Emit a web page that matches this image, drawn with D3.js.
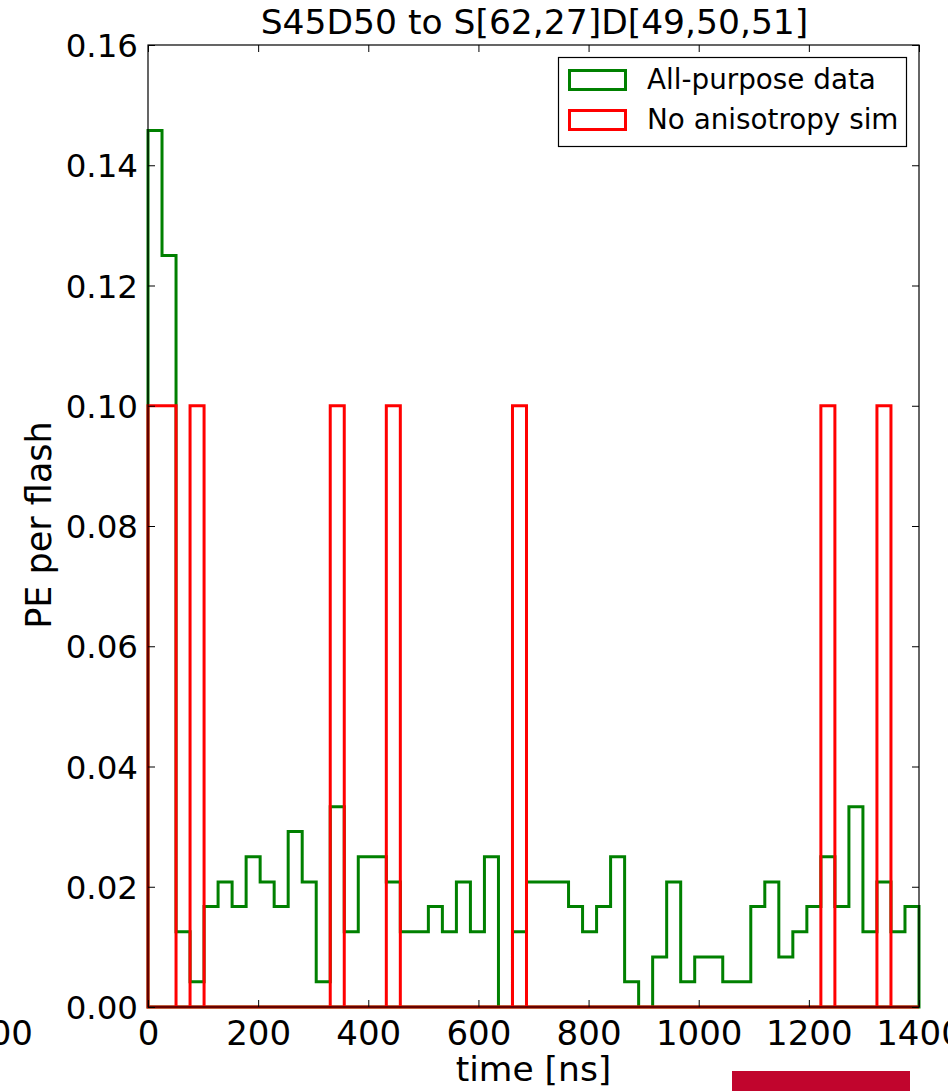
<!DOCTYPE html>
<html>
<head>
<meta charset="utf-8">
<script src="https://d3js.org/d3.v7.min.js"></script>
<style>
  body { margin: 0; background: #fff; }
  svg text { font-family: "DejaVu Sans", sans-serif; fill: #000; }
</style>
</head>
<body>
<div id="chart"></div>
<script>

// histogram range and binning (55 bins over 0-1400 ns)
var tMax = 1400;
var nBins = 55;

// PE per flash in each time bin
var dataValues = [0.1458, 0.125, 0.0125, 0.0042, 0.0167, 0.0208, 0.0167, 0.025, 0.0208, 0.0167,
    0.0292, 0.0208, 0.0042, 0.0333, 0.0125, 0.025, 0.025, 0.0208, 0.0125, 0.0125,
    0.0167, 0.0125, 0.0208, 0.0125, 0.025, 0, 0.0125, 0.0208, 0.0208, 0.0208,
    0.0167, 0.0125, 0.0167, 0.025, 0.0042, 0, 0.0083, 0.0208, 0.0042, 0.0083,
    0.0083, 0.0042, 0.0042, 0.0167, 0.0208, 0.0083, 0.0125, 0.0167, 0.025, 0.0167,
    0.0333, 0.0125, 0.0208, 0.0125, 0.0167];

var simValues = [0.1, 0.1, 0, 0.1, 0, 0, 0, 0, 0, 0,
    0, 0, 0, 0.1, 0, 0, 0, 0.1, 0, 0,
    0, 0, 0, 0, 0, 0, 0.1, 0, 0, 0,
    0, 0, 0, 0, 0, 0, 0, 0, 0, 0,
    0, 0, 0, 0, 0, 0, 0, 0, 0.1, 0,
    0, 0, 0.1, 0, 0];

var seriesNames = ["All-purpose data", "No anisotropy sim"];
var seriesColors = ["#008000", "#ff0000"];

var xTicks = [0, 200, 400, 600, 800, 1000, 1200, 1400];
var yTicks = [0, 0.02, 0.04, 0.06, 0.08, 0.10, 0.12, 0.14, 0.16];

/**
 * Constructor for the step histogram
 */
function HistChart(){
    var self = this;
    self.init();
};

/**
 * Sets up svg, scales and axes
 */
HistChart.prototype.init = function(){
    var self = this;
    self.margin = {top: 45, right: 29, bottom: 84, left: 148};
    self.svgWidth = 948;
    self.svgHeight = 1091;
    self.width = self.svgWidth - self.margin.left - self.margin.right;
    self.height = self.svgHeight - self.margin.top - self.margin.bottom;

    self.svg = d3.select("#chart").append("svg")
        .attr("width", self.svgWidth)
        .attr("height", self.svgHeight);

    self.x = d3.scaleLinear().domain([0, tMax]).range([self.margin.left, self.margin.left + self.width]);
    self.y = d3.scaleLinear().domain([0, 0.16]).range([self.margin.top + self.height, self.margin.top]);

    self.plot = self.svg.append("g");
};

/**
 * Draws the step outlines, axes and legend
 */
HistChart.prototype.update = function(){
    var self = this;
    var x = self.x, y = self.y;
    var edges = d3.range(nBins + 1).map(function(i){ return i * tMax / nBins; });

    // closed step outline like matplotlib's histtype='step'
    function stepPath(vals){
        var pts = [[x(edges[0]), y(0)]];
        vals.forEach(function(v, i){
            pts.push([x(edges[i]), y(v)]);
            pts.push([x(edges[i + 1]), y(v)]);
        });
        pts.push([x(edges[nBins]), y(0)]);
        return d3.line()(pts) + "Z";
    }

    [dataValues, simValues].forEach(function(vals, k){
        self.plot.append("path")
            .attr("d", stepPath(vals))
            .attr("fill", "none")
            .attr("stroke", seriesColors[k])
            .attr("stroke-width", 3)
            .attr("stroke-linejoin", "miter");
    });

    var x0 = self.margin.left, x1 = x0 + self.width;
    var y0 = self.margin.top + self.height, y1 = self.margin.top;
    var tickLen = 7;

    // axes with inward ticks on all four sides
    var bottom = self.svg.append("g").attr("transform", "translate(0," + y0 + ")")
        .call(d3.axisBottom(x).tickValues(xTicks).tickSize(-tickLen).tickPadding(14).tickFormat(d3.format("d")));
    var top = self.svg.append("g").attr("transform", "translate(0," + y1 + ")")
        .call(d3.axisTop(x).tickValues(xTicks).tickSize(-tickLen).tickFormat(""));
    var left = self.svg.append("g").attr("transform", "translate(" + x0 + ",0)")
        .call(d3.axisLeft(y).tickValues(yTicks).tickSize(-tickLen).tickPadding(10).tickFormat(d3.format(".2f")));
    var right = self.svg.append("g").attr("transform", "translate(" + x1 + ",0)")
        .call(d3.axisRight(y).tickValues(yTicks).tickSize(-tickLen).tickFormat(""));

    [bottom, top, left, right].forEach(function(g){
        g.select(".domain").remove();
        g.selectAll(".tick line").attr("stroke", "#000").attr("stroke-width", 1);
        g.selectAll(".tick text").attr("font-size", 34).attr("font-family", "DejaVu Sans").attr("fill", "#000");
    });
    bottom.selectAll(".tick text").attr("dy", "0.72em");
    left.selectAll(".tick text").attr("dy", "0.36em").attr("font-size", 32.5);

    self.svg.append("rect")
        .attr("x", x0).attr("y", y1)
        .attr("width", self.width).attr("height", self.height)
        .attr("fill", "none").attr("stroke", "#000").attr("stroke-width", 1.2);

    // titles
    self.svg.append("text")
        .attr("x", (x0 + x1) / 2 + 1).attr("y", 34)
        .attr("text-anchor", "middle").attr("font-size", 34.5)
        .text("S45D50 to S[62,27]D[49,50,51]");

    self.svg.append("text")
        .attr("x", (x0 + x1) / 2).attr("y", 1081)
        .attr("text-anchor", "middle").attr("font-size", 34.5)
        .text("time [ns]");

    self.svg.append("text")
        .attr("transform", "translate(51," + ((y0 + y1) / 2 - 1) + ") rotate(-90)")
        .attr("text-anchor", "middle").attr("font-size", 35)
        .text("PE per flash");

    // tick label of the neighbouring panel, cut off at the left edge
    self.svg.append("text")
        .attr("x", 33).attr("y", y0 + 14)
        .attr("dy", "0.72em")
        .attr("text-anchor", "end").attr("font-size", 34)
        .text("1400");

    // legend
    var leg = self.svg.append("g");
    leg.append("rect")
        .attr("x", 558.5).attr("y", 57.5).attr("width", 348).attr("height", 89)
        .attr("fill", "#fff").attr("stroke", "#000").attr("stroke-width", 1.2);
    seriesNames.forEach(function(name, k){
        leg.append("rect")
            .attr("x", 569.5).attr("y", 70.5 + k * 40).attr("width", 56).attr("height", 19)
            .attr("fill", "none").attr("stroke", seriesColors[k]).attr("stroke-width", 3);
        leg.append("text")
            .attr("x", 647).attr("y", 89 + k * 40)
            .attr("font-size", 27.8)
            .text(name);
    });

    // red strip at the lower right
    self.svg.append("rect")
        .attr("x", 732).attr("y", 1071).attr("width", 178).attr("height", 20)
        .attr("fill", "#c1052d");
};

var chart = new HistChart();
chart.update();

</script>
</body>
</html>
